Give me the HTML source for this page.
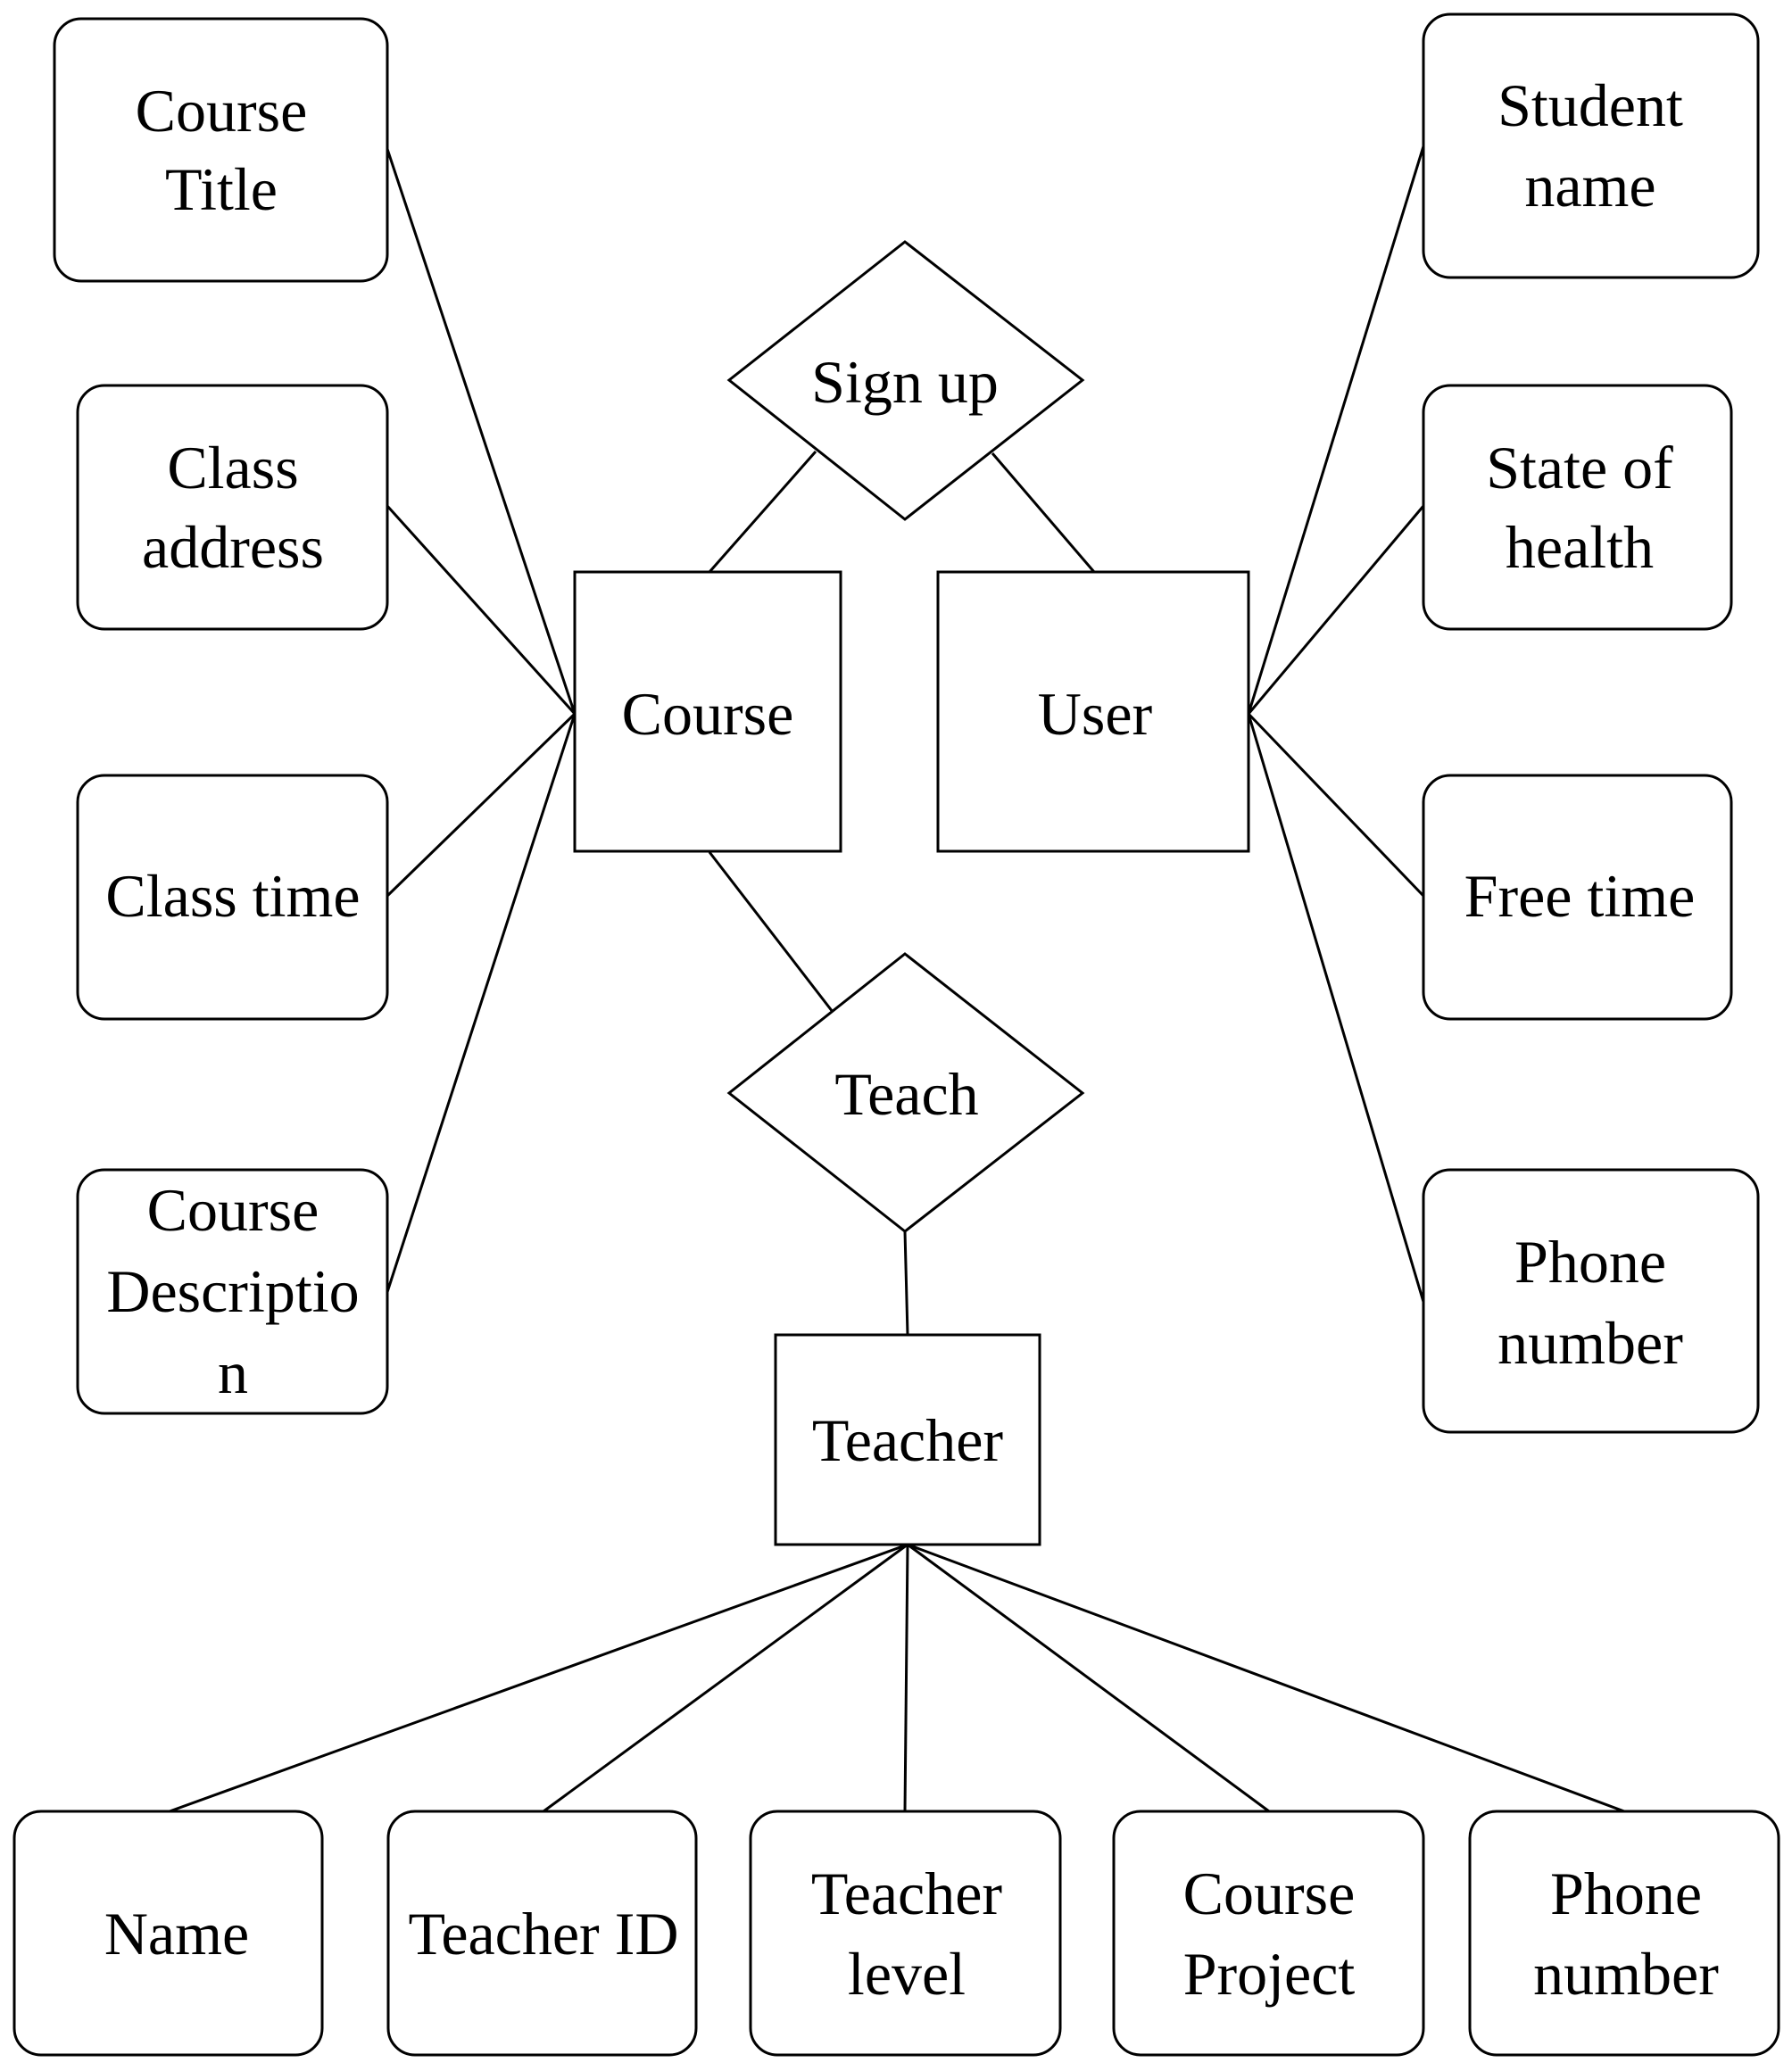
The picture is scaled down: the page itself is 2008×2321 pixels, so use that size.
<!DOCTYPE html>
<html><head><meta charset="utf-8">
<style>
html,body{margin:0;padding:0;background:#fff;}
svg{display:block;}
text{font-family:"Liberation Serif",serif;font-size:68px;fill:#000;text-anchor:middle;dominant-baseline:central;}
</style></head>
<body>
<svg width="2008" height="2321" viewBox="0 0 2008 2321" xmlns="http://www.w3.org/2000/svg">
<g fill="none" stroke="#000" stroke-width="3">
<!-- left attribute boxes -->
<rect x="61" y="21" width="373" height="294" rx="30"/>
<rect x="87" y="432" width="347" height="273" rx="30"/>
<rect x="87" y="869" width="347" height="273" rx="30"/>
<rect x="87" y="1311" width="347" height="273" rx="30"/>
<!-- right attribute boxes -->
<rect x="1595" y="16" width="375" height="295" rx="30"/>
<rect x="1595" y="432" width="345" height="273" rx="30"/>
<rect x="1595" y="869" width="345" height="273" rx="30"/>
<rect x="1595" y="1311" width="375" height="294" rx="30"/>
<!-- bottom boxes -->
<rect x="16" y="2030" width="345" height="273" rx="30"/>
<rect x="435" y="2030" width="345" height="273" rx="30"/>
<rect x="841" y="2030" width="347" height="273" rx="30"/>
<rect x="1248" y="2030" width="347" height="273" rx="30"/>
<rect x="1647" y="2030" width="346" height="273" rx="30"/>
<!-- entities -->
<rect x="644" y="641" width="298" height="313"/>
<rect x="1051" y="641" width="348" height="313"/>
<rect x="869" y="1496" width="296" height="235"/>
<!-- diamonds -->
<polygon points="1014,271 1213,426 1014,582 817,426"/>
<polygon points="1014,1069 1213,1225 1014,1380 817,1225"/>
<!-- connectors -->
<line x1="434" y1="167" x2="644" y2="800"/>
<line x1="434" y1="567" x2="644" y2="800"/>
<line x1="434" y1="1004" x2="644" y2="800"/>
<line x1="434" y1="1448" x2="644" y2="800"/>
<line x1="1595" y1="164" x2="1399" y2="800"/>
<line x1="1595" y1="567" x2="1399" y2="800"/>
<line x1="1595" y1="1004" x2="1399" y2="800"/>
<line x1="1595" y1="1459" x2="1399" y2="800"/>
<line x1="914" y1="506" x2="795" y2="641"/>
<line x1="1112" y1="508" x2="1226" y2="641"/>
<line x1="795" y1="955" x2="933" y2="1134"/>
<line x1="1014" y1="1380" x2="1017" y2="1496"/>
<line x1="1017" y1="1731" x2="190" y2="2030"/>
<line x1="1017" y1="1731" x2="609" y2="2030"/>
<line x1="1017" y1="1731" x2="1014" y2="2030"/>
<line x1="1017" y1="1731" x2="1422" y2="2030"/>
<line x1="1017" y1="1731" x2="1820" y2="2030"/>
</g>
<text x="248" y="124">Course</text>
<text x="248" y="212">Title</text>
<text x="261" y="524">Class</text>
<text x="261" y="613">address</text>
<text x="261" y="1004">Class time</text>
<text x="261" y="1356">Course</text>
<text x="261" y="1447">Descriptio</text>
<text x="261" y="1538">n</text>
<text x="1782" y="118">Student</text>
<text x="1782" y="208">name</text>
<text x="1770" y="524">State of</text>
<text x="1770" y="613">health</text>
<text x="1770" y="1004">Free time</text>
<text x="1782" y="1414">Phone</text>
<text x="1782" y="1505">number</text>
<text x="793" y="800">Course</text>
<text x="1227" y="800">User</text>
<text x="1017" y="1614">Teacher</text>
<text x="1014" y="428">Sign up</text>
<text x="1016" y="1226">Teach</text>
<text x="198" y="2167">Name</text>
<text x="609" y="2167">Teacher ID</text>
<text x="1016" y="2122">Teacher</text>
<text x="1016" y="2212">level</text>
<text x="1422" y="2122">Course</text>
<text x="1422" y="2212">Project</text>
<text x="1822" y="2122">Phone</text>
<text x="1822" y="2212">number</text>
</svg>
</body></html>
